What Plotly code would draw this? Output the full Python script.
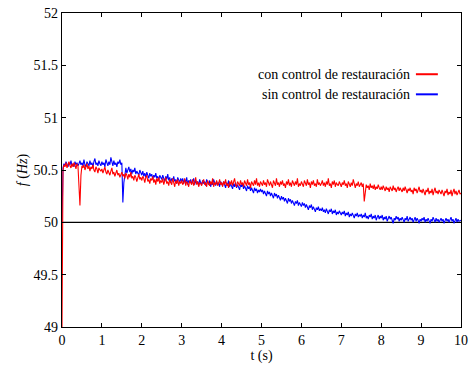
import plotly.graph_objects as go

# Sample step of the recorded frequency traces (s)
dt = 0.025

# Frequency with restoration control (Hz), one row = 0.5 s
f_con = [
    49.00, 50.50, 50.55, 50.53, 50.57, 50.52, 50.55, 50.58, 50.54, 50.52, 50.56, 50.53, 50.57, 50.55, 50.51, 50.56, 50.54, 50.30, 50.16, 50.45,
    50.54, 50.52, 50.55, 50.50, 50.53, 50.56, 50.51, 50.54, 50.49, 50.53, 50.51, 50.55, 50.50, 50.48, 50.53, 50.51, 50.47, 50.52, 50.50, 50.49,
    50.51, 50.47, 50.50, 50.53, 50.48, 50.46, 50.50, 50.48, 50.45, 50.49, 50.52, 50.46, 50.48, 50.44, 50.47, 50.50, 50.45, 50.47, 50.43, 50.46,
    50.48, 50.44, 50.46, 50.42, 50.47, 50.45, 50.41, 50.46, 50.43, 50.48, 50.42, 50.44, 50.40, 50.45, 50.43, 50.39, 50.44, 50.46, 50.41, 50.43,
    50.40, 50.44, 50.42, 50.38, 50.43, 50.45, 50.39, 50.41, 50.37, 50.42, 50.40, 50.44, 50.38, 50.41, 50.36, 50.42, 50.39, 50.43, 50.37, 50.40,
    50.38, 50.42, 50.36, 50.40, 50.43, 50.37, 50.39, 50.35, 50.41, 50.38, 50.36, 50.42, 50.39, 50.34, 50.40, 50.37, 50.41, 50.35, 50.39, 50.37,
    50.40, 50.36, 50.38, 50.42, 50.35, 50.39, 50.37, 50.34, 50.40, 50.38, 50.36, 50.41, 50.35, 50.38, 50.43, 50.36, 50.39, 50.34, 50.38, 50.37,
    50.35, 50.39, 50.41, 50.36, 50.38, 50.34, 50.40, 50.37, 50.35, 50.39, 50.36, 50.42, 50.34, 50.38, 50.36, 50.40, 50.35, 50.37, 50.41, 50.36,
    50.38, 50.34, 50.39, 50.36, 50.41, 50.35, 50.37, 50.33, 50.39, 50.36, 50.40, 50.35, 50.38, 50.42, 50.36, 50.34, 50.39, 50.37, 50.35, 50.40,
    50.36, 50.38, 50.34, 50.40, 50.37, 50.35, 50.41, 50.36, 50.38, 50.33, 50.39, 50.37, 50.35, 50.40, 50.36, 50.42, 50.35, 50.38, 50.34, 50.39,
    50.37, 50.35, 50.40, 50.36, 50.38, 50.34, 50.41, 50.37, 50.35, 50.39, 50.36, 50.33, 50.40, 50.38, 50.35, 50.42, 50.36, 50.38, 50.34, 50.39,
    50.36, 50.40, 50.35, 50.37, 50.33, 50.39, 50.36, 50.41, 50.35, 50.38, 50.34, 50.40, 50.37, 50.35, 50.39, 50.36, 50.42, 50.34, 50.37, 50.35,
    50.39, 50.36, 50.34, 50.40, 50.37, 50.35, 50.41, 50.36, 50.38, 50.33, 50.39, 50.36, 50.40, 50.35, 50.37, 50.34, 50.41, 50.36, 50.38, 50.35,
    50.37, 50.40, 50.35, 50.38, 50.34, 50.39, 50.36, 50.42, 50.35, 50.37, 50.33, 50.39, 50.36, 50.40, 50.34, 50.38, 50.36, 50.35, 50.39, 50.36,
    50.34, 50.38, 50.36, 50.40, 50.35, 50.37, 50.33, 50.39, 50.36, 50.34, 50.38, 50.35, 50.41, 50.36, 50.33, 50.37, 50.35, 50.39, 50.34, 50.36,
    50.38, 50.34, 50.37, 50.20, 50.30, 50.36, 50.33, 50.35, 50.31, 50.37, 50.33, 50.35, 50.32, 50.36, 50.31, 50.34, 50.32, 50.36, 50.33, 50.31,
    50.34, 50.31, 50.35, 50.32, 50.30, 50.34, 50.31, 50.33, 50.29, 50.34, 50.32, 50.30, 50.35, 50.31, 50.33, 50.29, 50.32, 50.34, 50.30, 50.33,
    50.31, 50.29, 50.33, 50.30, 50.34, 50.31, 50.28, 50.32, 50.30, 50.33, 50.29, 50.31, 50.27, 50.33, 50.30, 50.32, 50.28, 50.31, 50.34, 50.29,
    50.31, 50.28, 50.32, 50.29, 50.26, 50.31, 50.29, 50.33, 50.27, 50.30, 50.28, 50.32, 50.26, 50.30, 50.33, 50.28, 50.30, 50.27, 50.31, 50.29,
    50.27, 50.31, 50.28, 50.25, 50.30, 50.28, 50.32, 50.26, 50.29, 50.27, 50.31, 50.25, 50.29, 50.32, 50.27, 50.30, 50.26, 50.29, 50.31, 50.27,
    50.28,
]

# Frequency without restoration control (Hz), one row = 0.5 s
f_sin = [
    50.00, 50.52, 50.56, 50.54, 50.58, 50.55, 50.53, 50.57, 50.55, 50.59, 50.54, 50.56, 50.53, 50.58, 50.55, 50.57, 50.54, 50.56, 50.59, 50.55,
    50.57, 50.54, 50.60, 50.55, 50.53, 50.58, 50.56, 50.54, 50.59, 50.55, 50.57, 50.53, 50.58, 50.61, 50.55, 50.57, 50.54, 50.59, 50.56, 50.54,
    50.58, 50.55, 50.57, 50.53, 50.60, 50.56, 50.54, 50.58, 50.55, 50.62, 50.56, 50.54, 50.59, 50.55, 50.57, 50.53, 50.58, 50.56, 50.60, 50.55,
    50.57, 50.19, 50.38, 50.48, 50.52, 50.47, 50.50, 50.53, 50.48, 50.51, 50.46, 50.50, 50.48, 50.52, 50.46, 50.49, 50.47, 50.45, 50.50, 50.47,
    50.45, 50.49, 50.44, 50.47, 50.43, 50.48, 50.45, 50.42, 50.47, 50.44, 50.46, 50.41, 50.45, 50.43, 50.47, 50.42, 50.44, 50.40, 50.45, 50.43,
    50.41, 50.45, 50.42, 50.39, 50.44, 50.41, 50.46, 50.40, 50.43, 50.38, 50.42, 50.40, 50.44, 50.39, 50.41, 50.37, 50.43, 50.40, 50.38, 50.42,
    50.39, 50.42, 50.37, 50.41, 50.38, 50.43, 50.36, 50.40, 50.38, 50.41, 50.37, 50.39, 50.42, 50.36, 50.40, 50.37, 50.39, 50.35, 50.41, 50.38,
    50.36, 50.40, 50.37, 50.39, 50.35, 50.41, 50.38, 50.36, 50.40, 50.34, 50.38, 50.36, 50.41, 50.37, 50.35, 50.39, 50.36, 50.38, 50.34, 50.39,
    50.37, 50.35, 50.39, 50.36, 50.33, 50.38, 50.35, 50.40, 50.34, 50.37, 50.35, 50.32, 50.37, 50.34, 50.38, 50.33, 50.36, 50.34, 50.31, 50.36,
    50.34, 50.37, 50.32, 50.35, 50.33, 50.30, 50.35, 50.32, 50.34, 50.30, 50.33, 50.31, 50.28, 50.33, 50.30, 50.32, 50.28, 50.31, 50.29, 50.32,
    50.29, 50.31, 50.27, 50.30, 50.28, 50.25, 50.30, 50.27, 50.29, 50.25, 50.28, 50.26, 50.23, 50.28, 50.25, 50.27, 50.23, 50.26, 50.24, 50.21,
    50.25, 50.22, 50.24, 50.20, 50.23, 50.21, 50.18, 50.23, 50.20, 50.22, 50.18, 50.21, 50.19, 50.16, 50.20, 50.18, 50.21, 50.16, 50.19, 50.17,
    50.15, 50.19, 50.16, 50.18, 50.14, 50.17, 50.15, 50.12, 50.16, 50.14, 50.17, 50.12, 50.15, 50.13, 50.10, 50.14, 50.12, 50.15, 50.11, 50.13,
    50.11, 50.14, 50.10, 50.12, 50.09, 50.13, 50.11, 50.08, 50.12, 50.10, 50.13, 50.08, 50.11, 50.09, 50.12, 50.07, 50.10, 50.08, 50.11, 50.09,
    50.07, 50.10, 50.08, 50.11, 50.06, 50.09, 50.07, 50.10, 50.05, 50.08, 50.06, 50.09, 50.07, 50.04, 50.08, 50.06, 50.09, 50.05, 50.07, 50.06,
    50.08, 50.04, 50.07, 50.05, 50.09, 50.04, 50.06, 50.03, 50.07, 50.05, 50.08, 50.03, 50.06, 50.04, 50.07, 50.02, 50.05, 50.07, 50.03, 50.06,
    50.04, 50.07, 50.02, 50.05, 50.03, 50.06, 50.01, 50.04, 50.06, 50.03, 50.05, 50.02, 49.99, 50.04, 50.02, 50.06, 50.03, 50.05, 50.01, 50.04,
    50.02, 50.05, 50.03, 50.00, 50.04, 50.02, 50.06, 50.01, 50.03, 50.05, 50.02, 50.04, 50.00, 50.03, 50.05, 50.01, 50.04, 50.02, 49.99, 50.03,
    50.01, 50.04, 50.02, 50.05, 50.00, 50.03, 50.01, 50.04, 50.02, 49.99, 50.03, 50.01, 50.05, 50.02, 50.00, 50.04, 50.01, 50.03, 50.00, 50.02,
    50.04, 50.01, 50.03, 49.99, 50.02, 50.04, 50.01, 50.03, 50.00, 50.02, 50.05, 50.01, 50.03, 49.99, 50.02, 50.04, 50.00, 50.03, 50.01, 50.02,
    50.02,
]

# Nominal frequency reference
f_nom = 50.0
t_end = 10.0

x_ticks = [0, 1, 2, 3, 4, 5, 6, 7, 8, 9, 10]
y_ticks = [49, 49.5, 50, 50.5, 51, 51.5, 52]
y_tick_text = ["49", "49.5", "50", "50.5", "51", "51.5", "52"]

names = ["con control de restauración", "sin control de restauración"]
colors = ["#ff0000", "#0000ff"]

t_con = [i * dt for i in range(len(f_con))]
t_sin = [i * dt for i in range(len(f_sin))]

FONT = "Liberation Serif"

fig = go.Figure()
fig.add_trace(go.Scatter(x=[0, t_end], y=[f_nom, f_nom], mode="lines",
                         line=dict(color="black", width=1.2), showlegend=False))
fig.add_trace(go.Scatter(x=t_sin, y=f_sin, mode="lines", name=names[1],
                         line=dict(color=colors[1], width=1.1), showlegend=False))
fig.add_trace(go.Scatter(x=t_con, y=f_con, mode="lines", name=names[0],
                         line=dict(color=colors[0], width=1.1), showlegend=False))

# Legend drawn as text with the line sample on its right
for i, (nm, col) in enumerate(zip(names, colors)):
    ypos = 0.805 - i * 0.064
    fig.add_annotation(xref="paper", yref="paper", x=0.877, y=ypos, text=nm,
                       showarrow=False, xanchor="right", yanchor="middle",
                       font=dict(family=FONT, size=14, color="black"))
    fig.add_shape(type="line", xref="paper", yref="paper",
                  x0=0.887, x1=0.942, y0=ypos, y1=ypos,
                  line=dict(color=col, width=2))

axis_common = dict(showline=True, linecolor="black", linewidth=1.3, mirror="ticks",
                   ticks="inside", ticklen=4, tickcolor="black", showgrid=False,
                   zeroline=False, automargin=False,
                   tickfont=dict(family=FONT, size=14, color="black"))

fig.update_xaxes(range=[0, t_end], tickvals=x_ticks,
                 title=dict(text="t (s)", font=dict(family=FONT, size=14, color="black"),
                            standoff=2),
                 **axis_common)
fig.update_yaxes(range=[49, 52], tickvals=y_ticks, ticktext=y_tick_text,
                 title=dict(text="<i>f</i> (<i>Hz</i>)",
                            font=dict(family=FONT, size=14, color="black"), standoff=2),
                 **axis_common)

fig.update_layout(width=469, height=370, plot_bgcolor="white", paper_bgcolor="white",
                  margin=dict(l=62, r=8, t=13, b=43), showlegend=False)

fig.write_html("out.html")
